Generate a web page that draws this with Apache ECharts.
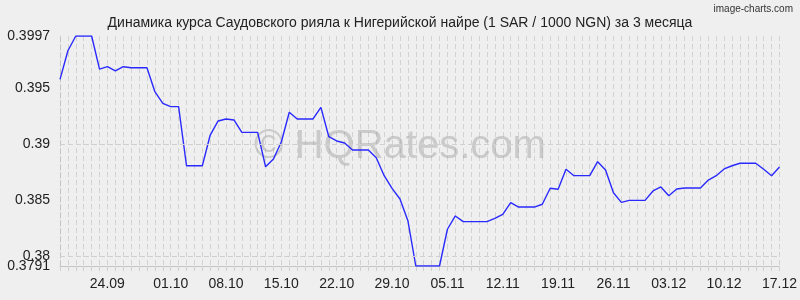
<!DOCTYPE html>
<html>
<head>
<meta charset="utf-8">
<script src="https://cdn.jsdelivr.net/npm/echarts@6/dist/echarts.min.js"></script>
<style>
html,body{margin:0;padding:0;background:#efefef;}
#c{width:800px;height:300px;}
</style>
</head>
<body>
<div id="c"></div>
<script>
const titleText = 'Динамика курса Саудовского рияла к Нигерийской найре (1 SAR / 1000 NGN) за 3 месяца';
const categories = [
 '17.09','18.09','19.09','20.09','21.09','22.09','23.09','24.09','25.09','26.09','27.09','28.09','29.09','30.09',
 '01.10','02.10','03.10','04.10','05.10','06.10','07.10','08.10','09.10','10.10','11.10','12.10','13.10','14.10','15.10','16.10','17.10','18.10','19.10','20.10','21.10','22.10','23.10','24.10','25.10','26.10','27.10','28.10','29.10','30.10','31.10',
 '01.11','02.11','03.11','04.11','05.11','06.11','07.11','08.11','09.11','10.11','11.11','12.11','13.11','14.11','15.11','16.11','17.11','18.11','19.11','20.11','21.11','22.11','23.11','24.11','25.11','26.11','27.11','28.11','29.11','30.11',
 '01.12','02.12','03.12','04.12','05.12','06.12','07.12','08.12','09.12','10.12','11.12','12.12','13.12','14.12','15.12','16.12','17.12'
];
const rates = [
 0.39582,0.39838,0.3997,0.3997,0.3997,0.39674,0.39695,0.39657,0.39695,0.39686,0.39686,0.39686,0.39471,0.39367,
 0.39337,0.39337,0.38808,0.38808,0.38808,0.39083,0.39209,0.39227,0.39218,0.39107,0.39107,0.39107,0.38799,0.38868,0.39023,0.39287,0.39227,0.39227,0.39227,0.39331,0.39068,0.39030,0.39012,0.38949,0.38949,0.38949,0.38880,0.38719,0.38606,0.38510,0.38316,
 0.3791,0.3791,0.3791,0.3791,0.38239,0.38358,0.38307,0.38307,0.38307,0.38307,0.38337,0.38373,0.38477,0.38438,0.38438,0.38438,0.38463,0.38606,0.38597,0.38776,0.38719,0.38719,0.38719,0.38844,0.38770,0.38566,0.38480,0.38498,0.38498,0.38498,
 0.38582,0.38618,0.38540,0.38600,0.38609,0.38609,0.38609,0.38680,0.38719,0.38779,0.38808,0.38830,0.38830,0.38830,0.38776,0.38719,0.38797
];
const xTickLabels = ['24.09','01.10','08.10','15.10','22.10','29.10','05.11','12.11','19.11','26.11','03.12','10.12','17.12'];
const yTickValues = [0.3791, 0.385, 0.39, 0.395, 0.3997];
const yTickValuesExtra = [0.38];
const yGridValues = [0.38, 0.385, 0.39, 0.395, 0.3997];
const yMin = 0.3791, yMax = 0.3997;

const chart = echarts.init(document.getElementById('c'), null, {renderer: 'canvas'});
const font = 'Liberation Sans, Arial, sans-serif';
const yLabelBase = {showMinLabel: true, showMaxLabel: true, hideOverlap: false,
  fontFamily: font, fontSize: 14, color: '#222', margin: 10,
  formatter: v => String(+(+v).toFixed(4))};
chart.setOption({
  backgroundColor: '#efefef',
  animation: false,
  title: {
    text: titleText, left: 'center', top: 11,
    textStyle: {fontFamily: font, fontSize: 14, fontWeight: 'normal', color: '#222'}
  },
  graphic: [
    {type: 'text', right: 7, top: 4, style: {text: 'image-charts.com', font: '10px Liberation Sans, Arial, sans-serif', fill: '#333'}},
    {type: 'text', x: 400, y: 147, z: 1, silent: true,
     style: {text: '© HQRates.com', font: '40px Liberation Sans, Arial, sans-serif', fill: 'rgba(150,150,150,0.42)',
             textAlign: 'center', textVerticalAlign: 'middle'}}
  ],
  grid: {left: 60, right: 20, top: 36, bottom: 34},
  xAxis: {
    type: 'category', data: categories, boundaryGap: false,
    axisLine: {show: true, lineStyle: {color: '#c4c4c4', width: 1}},
    axisTick: {show: true, interval: 0, length: 7, lineStyle: {color: '#cfcfcf', type: [5, 3]}},
    axisLabel: {
      interval: (i, v) => xTickLabels.indexOf(v) >= 0,
      margin: 11, fontFamily: font, fontSize: 14, color: '#222',
      formatter: v => v === '24.09' ? '{s|' + v + '}' : v,
      rich: {s: {fontFamily: font, fontSize: 14, color: '#222', padding: [0, 16, 0, 0]}}
    },
    splitLine: {show: true, interval: 0, lineStyle: {color: '#d2d2d2', type: [5, 3], width: 1}}
  },
  yAxis: [{
    type: 'value', min: yMin, max: yMax, position: 'left',
    axisLine: {show: true, lineStyle: {color: '#c4c4c4', type: [5, 3]}},
    axisTick: {show: false},
    axisLabel: Object.assign({customValues: yTickValues}, yLabelBase),
    splitLine: {show: false}
  }, {
    type: 'value', min: yMin, max: yMax, position: 'left', offset: 0,
    axisLine: {show: false},
    axisTick: {show: false},
    axisLabel: Object.assign({customValues: yTickValuesExtra}, yLabelBase),
    splitLine: {show: false}
  }],
  series: [{
    type: 'line', data: rates, symbol: 'none', z: 3, yAxisIndex: 0,
    lineStyle: {color: '#2a2aff', width: 1.4},
    markLine: {
      silent: true, symbol: 'none', label: {show: false},
      lineStyle: {color: '#d0d0d0', type: [5, 3], width: 1},
      data: yGridValues.map(v => ({yAxis: v}))
    }
  }]
});
</script>
</body>
</html>
